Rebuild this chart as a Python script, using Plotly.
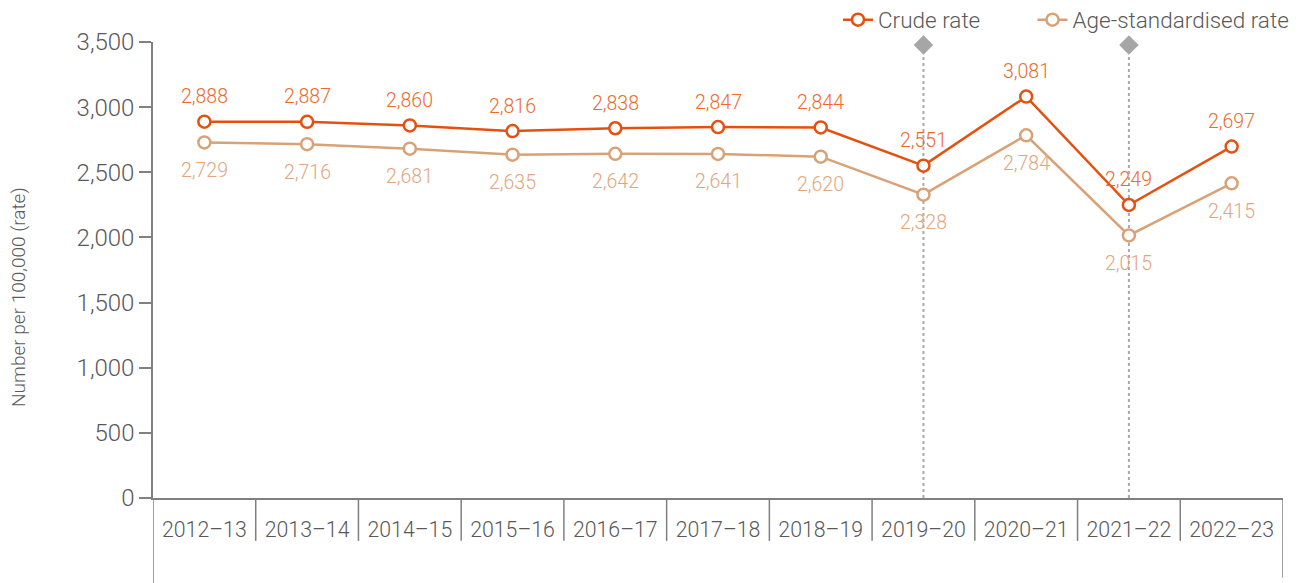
import plotly.graph_objects as go

years = ["2012–13", "2013–14", "2014–15", "2015–16", "2016–17", "2017–18",
         "2018–19", "2019–20", "2020–21", "2021–22", "2022–23"]
crude = [2888, 2887, 2860, 2816, 2838, 2847, 2844, 2551, 3081, 2249, 2697]
age_std = [2729, 2716, 2681, 2635, 2642, 2641, 2620, 2328, 2784, 2015, 2415]
marked_years = ["2019–20", "2021–22"]
y_ticks = [0, 500, 1000, 1500, 2000, 2500, 3000, 3500]

CRUDE = "#E6500F"
AGE = "#D9A276"
GREY = "#808080"
TXT = "#595959"
FONT = "Roboto"
W = 300

fig = go.Figure()

fig.add_trace(go.Scatter(
    x=years, y=crude, name="Crude rate", mode="lines+markers", legend="legend",
    line=dict(color=CRUDE, width=2.5),
    marker=dict(symbol="circle", size=12, color="white", line=dict(color=CRUDE, width=2.5)),
    cliponaxis=False,
))
fig.add_trace(go.Scatter(
    x=years, y=age_std, name="Age-standardised rate", mode="lines+markers", legend="legend2",
    line=dict(color=AGE, width=2.5),
    marker=dict(symbol="circle", size=12, color="white", line=dict(color=AGE, width=2.5)),
    cliponaxis=False,
))

for x, v in zip(years, crude):
    fig.add_annotation(x=x, y=v, text=f"{v:,}", showarrow=False, yshift=25,
                       font=dict(color="#EE6A2C", size=19.5, family=FONT, weight=W))
for x, v in zip(years, age_std):
    fig.add_annotation(x=x, y=v, text=f"{v:,}", showarrow=False, yshift=-28,
                       font=dict(color="#E2A67E", size=19.5, family=FONT, weight=W))

shapes = []
for yr in marked_years:
    shapes.append(dict(type="line", xref="x", yref="y domain", x0=yr, x1=yr, y0=0, y1=0.975,
                       line=dict(color="#AAAAAA", width=2, dash="dot"), layer="below"))
fig.add_trace(go.Scatter(
    x=marked_years, y=[3477, 3477], mode="markers", showlegend=False, hoverinfo="skip",
    marker=dict(symbol="diamond", size=15, color="#A6A6A6"), cliponaxis=False,
))

n = len(years)
for i in range(n + 1):
    xv = i - 0.5
    if i == 0:
        y0 = -0.1864
    elif i == n:
        y0 = -0.175
    else:
        y0 = -0.094
    shapes.append(dict(type="line", xref="x", yref="y domain", x0=xv, x1=xv, y0=y0, y1=0,
                       line=dict(color=GREY, width=1.5)))
fig.update_layout(shapes=shapes)

fig.add_annotation(text="Number per 100,000 (rate)", textangle=-90, xref="paper", yref="paper",
                   x=-0.119, xanchor="center", y=0.44, yanchor="middle", showarrow=False,
                   font=dict(size=19, color=TXT, family=FONT, weight=W))

leg_common = dict(orientation="h", xref="container", yref="container",
                  y=1 - 20 / 583, yanchor="middle",
                  font=dict(size=22.5, color=TXT, family=FONT, weight=W),
                  bgcolor="rgba(0,0,0,0)")

fig.update_layout(
    width=1301, height=583,
    margin=dict(l=153, r=18, t=42, b=85),
    paper_bgcolor="white", plot_bgcolor="white",
    font=dict(family=FONT, color=TXT, size=20, weight=W),
    showlegend=True,
    legend=dict(x=838 / 1301, xanchor="left", **leg_common),
    legend2=dict(x=0.995, xanchor="right", **leg_common),
    xaxis=dict(type="category", range=[-0.5, n - 0.5], showgrid=False, automargin=False,
               showline=True, linecolor=GREY, linewidth=1.5, ticks="",
               tickfont=dict(size=21.3, color=TXT, family=FONT, weight=W),
               ticklabelstandoff=12),
    yaxis=dict(range=[0, 3500], tickvals=y_ticks, tickformat=",", showgrid=False,
               automargin=False,
               zeroline=False, showline=True, linecolor=GREY, linewidth=1.5,
               ticks="outside", ticklen=12, tickcolor=GREY, tickwidth=1.5,
               tickfont=dict(size=24, color=TXT, family=FONT, weight=W)),
)

fig.write_html("out.html", config={"displayModeBar": False},
               post_script="document.body.style.margin='0';")
